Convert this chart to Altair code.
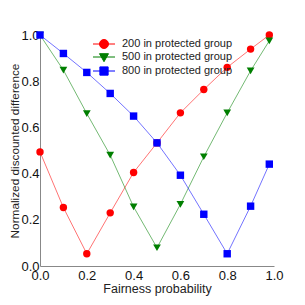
import altair as alt
import pandas as pd

x_vals = [0.0, 0.1, 0.2, 0.3, 0.4, 0.5, 0.6, 0.7, 0.8, 0.9, 0.98]
red_200 = [0.494, 0.253, 0.053, 0.230, 0.405, 0.533, 0.663, 0.764, 0.860, 0.939, 1.0]
green_500 = [1.0, 0.848, 0.660, 0.480, 0.256, 0.079, 0.267, 0.473, 0.663, 0.845, 0.975]
blue_800 = [1.0, 0.920, 0.838, 0.747, 0.649, 0.533, 0.393, 0.224, 0.053, 0.259, 0.441]
series_names = ["200 in protected group", "500 in protected group", "800 in protected group"]
colors = ["#ff0000", "#007f00", "#0000ff"]
marker_shapes = ["circle", "triangle-down", "square"]

rows = []
for name, vals in zip(series_names, [red_200, green_500, blue_800]):
    for xv, yv in zip(x_vals, vals):
        rows.append({"x": xv, "y": yv, "series": name})
df = pd.DataFrame(rows)

# legend symbols: line segment + marker (custom SVG paths)
legend_paths = [
    "M-2,0H2M-0.82,0A0.82,0.82,0,1,0,0.82,0A0.82,0.82,0,1,0,-0.82,0Z",
    "M-2,0H2M-0.82,-0.6L0.82,-0.6L0,0.85Z",
    "M-2,0H2M-0.75,-0.75H0.75V0.75H-0.75Z",
]

xs = alt.Scale(domain=[0, 1], nice=False, zero=False)
ys = alt.Scale(domain=[0, 1], nice=False, zero=False)
X = alt.X("x:Q", scale=xs, title="Fairness probability",
          axis=alt.Axis(values=[0, 0.2, 0.4, 0.6, 0.8, 1.0], format=".1f", labelFlush=False))
Y = alt.Y("y:Q", scale=ys, title="Normalized discounted difference",
          axis=alt.Axis(values=[0, 0.2, 0.4, 0.6, 0.8, 1.0], format=".1f", labelFlush=False))

layers = []
for name, c, shp in zip(series_names, colors, marker_shapes):
    sub = alt.Chart(df).transform_filter(alt.datum.series == name)
    layers.append(sub.mark_line(color=c, strokeWidth=1, opacity=0.55).encode(x=X, y=Y))
for name, c, shp in zip(series_names, colors, marker_shapes):
    sub = alt.Chart(df).transform_filter(alt.datum.series == name)
    sz = 55 if shp != "triangle-down" else 60
    layers.append(sub.mark_point(shape=shp, filled=True, color=c, size=sz, opacity=1,
                                 strokeWidth=0).encode(x=X, y=Y))

legend = alt.Legend(title=None, orient="none", legendX=58, legendY=3,
                    padding=0, rowPadding=0, symbolSize=121, symbolStrokeWidth=1,
                    labelOffset=12, labelFontSize=11, labelFont="Liberation Sans",
                    labelColor="#222222", symbolOpacity=1)
leg_layer = alt.Chart(df).transform_filter(alt.datum.x > 5).mark_point(
    filled=True, opacity=1).encode(
    x=X, y=Y,
    fill=alt.Fill("series:N", scale=alt.Scale(domain=series_names, range=colors), legend=legend),
    stroke=alt.Stroke("series:N", scale=alt.Scale(domain=series_names, range=colors), legend=legend),
    shape=alt.Shape("series:N", scale=alt.Scale(domain=series_names, range=legend_paths), legend=legend),
)
layers.append(leg_layer)

chart = alt.layer(*layers).properties(
    width=234, height=231,
    autosize=alt.AutoSizeParams(type="none"),
    padding={"left": 32, "top": 27, "right": 20, "bottom": 40},
).configure_view(stroke=None).configure_axis(
    grid=False, domainColor="#888888", domainWidth=1, ticks=False,
    labelFont="Liberation Sans", labelFontSize=13, labelColor="#111111", labelPadding=2,
    titleFont="Liberation Sans", titleFontSize=12.5, titleFontWeight="normal", titleColor="#222222",
).configure_axisX(titlePadding=0, labelPadding=3).configure_axisY(
    titlePadding=0, labelPadding=1, titleFontSize=11.8)

chart.save("out.html", embed_options={"renderer": "svg", "actions": False})
